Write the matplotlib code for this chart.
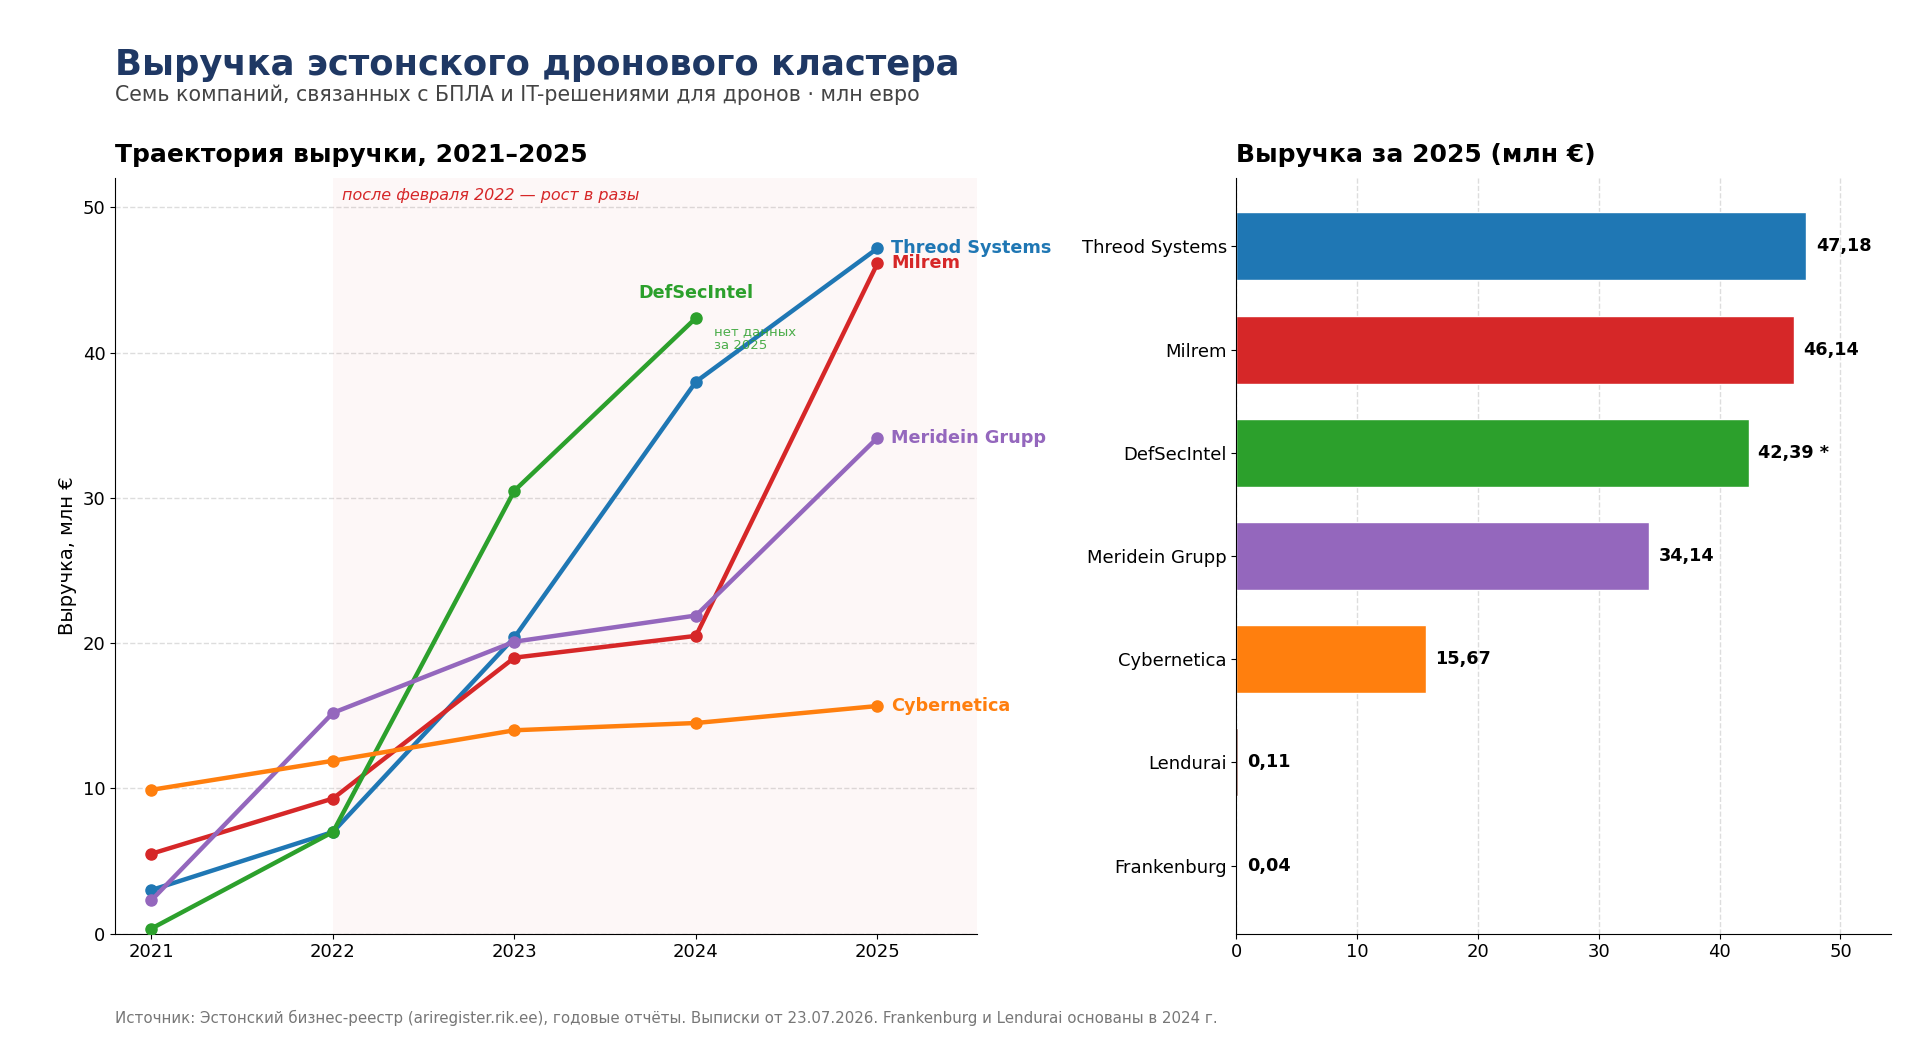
import numpy as np
import matplotlib
matplotlib.use("Agg")
import matplotlib.pyplot as plt

# --- data (млн евро) ---
years = [2021, 2022, 2023, 2024, 2025]
threod = [3.0, 7.0, 20.4, 38.0, 47.18]
milrem = [5.5, 9.3, 19.0, 20.5, 46.14]
defsec = [0.35, 7.0, 30.5, 42.39]          # нет данных за 2025
meridein = [2.3, 15.2, 20.1, 21.9, 34.14]
cybernetica = [9.9, 11.9, 14.0, 14.5, 15.67]

bar_names = ["Threod Systems", "Milrem", "DefSecIntel", "Meridein Grupp",
             "Cybernetica", "Lendurai", "Frankenburg"]
bar_values = [47.18, 46.14, 42.39, 34.14, 15.67, 0.11, 0.04]
bar_labels = ["47,18", "46,14", "42,39 *", "34,14", "15,67", "0,11", "0,04"]

C_BLUE, C_RED, C_GREEN = "#1f77b4", "#d62728", "#2ca02c"
C_PURPLE, C_ORANGE = "#9467bd", "#ff7f0e"
bar_colors = [C_BLUE, C_RED, C_GREEN, C_PURPLE, C_ORANGE, "#8c564b", "#7f7f7f"]

plt.rcParams['font.family'] = ['DejaVu Sans']

fig = plt.figure(figsize=(19.2, 10.49), dpi=100)
ax1 = fig.add_axes([0.060, 0.110, 0.449, 0.720])
ax2 = fig.add_axes([0.644, 0.110, 0.341, 0.720])

fig.text(0.060, 0.938, "Выручка эстонского дронового кластера", fontsize=25.5,
         fontweight='bold', color="#1f3864", va='center')
fig.text(0.060, 0.910, "Семь компаний, связанных с БПЛА и IT-решениями для дронов · млн евро",
         fontsize=14.8, color="#444444", va='center')

# ---- left: lines ----
ax1.axvspan(2022, 2025.55, color=C_RED, alpha=0.035, lw=0)
series = [(threod, C_BLUE, "Threod Systems"),
          (milrem, C_RED, "Milrem"),
          (defsec, C_GREEN, "DefSecIntel"),
          (meridein, C_PURPLE, "Meridein Grupp"),
          (cybernetica, C_ORANGE, "Cybernetica")]
for vals, col, name in series:
    xs = years[:len(vals)]
    ax1.plot(xs, vals, color=col, lw=3.2, marker='o', ms=8, zorder=3)
    if len(vals) == len(years):
        ax1.annotate(name, xy=(xs[-1], vals[-1]), xytext=(10, 0),
                     textcoords='offset points', color=col, fontsize=12.7,
                     fontweight='bold', va='center', ha='left')

ax1.annotate("DefSecIntel", xy=(2024, defsec[-1]), xytext=(0, 18),
             textcoords='offset points', color=C_GREEN, fontsize=12.7,
             fontweight='bold', ha='center', va='center')
ax1.annotate("нет данных\nза 2025", xy=(2024, defsec[-1]), xytext=(13, -5),
             textcoords='offset points', color=C_GREEN, alpha=0.85,
             fontsize=9.5, ha='left', va='top', linespacing=1.15)
ax1.text(2022.05, 50.85, "после февраля 2022 — рост в разы", color=C_RED,
         fontsize=11.5, style='italic', ha='left', va='center')

ax1.set_xlim(2020.8, 2025.55)
ax1.set_ylim(0, 52)
ax1.set_xticks(years)
ax1.set_yticks([0, 10, 20, 30, 40, 50])
ax1.set_ylabel("Выручка, млн €", fontsize=14)
ax1.set_title("Траектория выручки, 2021–2025", loc='left', fontsize=18,
              fontweight='bold', pad=12)
ax1.grid(axis='y', ls='--', color='#dddddd', lw=1)
ax1.set_axisbelow(True)
ax1.tick_params(labelsize=13)
for s in ['top', 'right']:
    ax1.spines[s].set_visible(False)

# ---- right: bars ----
ypos = np.arange(len(bar_names))
ax2.barh(ypos, bar_values, height=0.66, color=bar_colors, edgecolor='white', lw=1)
for y, v, lab in zip(ypos, bar_values, bar_labels):
    ax2.text(v + 0.8, y, lab, fontsize=12.7, fontweight='bold', va='center', ha='left')
ax2.set_yticks(ypos)
ax2.set_yticklabels(bar_names)
ax2.set_ylim(len(bar_names) - 0.34, -0.66)
ax2.set_xlim(0, 54.2)
ax2.set_xticks([0, 10, 20, 30, 40, 50])
ax2.set_title("Выручка за 2025 (млн €)", loc='left', fontsize=18,
              fontweight='bold', pad=12)
ax2.grid(axis='x', ls='--', color='#dddddd', lw=1)
ax2.set_axisbelow(True)
ax2.tick_params(labelsize=13)
for s in ['top', 'right']:
    ax2.spines[s].set_visible(False)

fig.text(0.060, 0.030, "Источник: Эстонский бизнес-реестр (ariregister.rik.ee), годовые отчёты. "
         "Выписки от 23.07.2026. Frankenburg и Lendurai основаны в 2024 г.",
         fontsize=10.8, color="#777777", va='center')

fig.savefig("out.png", dpi=100)
